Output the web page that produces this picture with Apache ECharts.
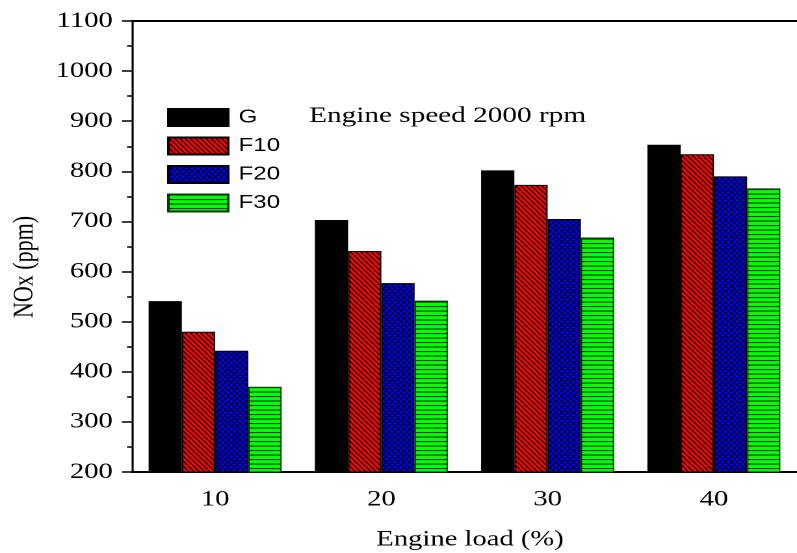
<!DOCTYPE html>
<html>
<head>
<meta charset="utf-8">
<script src="https://cdn.jsdelivr.net/npm/echarts@6/dist/echarts.min.js"></script>
<style>
  html, body { margin: 0; padding: 0; background: #fff; overflow: hidden; width: 797px; height: 553px; }
  #chart { width: 613px; height: 553px; transform: scaleX(1.30016); transform-origin: 0 0; }
</style>
</head>
<body>
<div id="chart"></div>
<script>
// ---- data ----
const loads = ['10', '20', '30', '40'];
const seriesNames = ['G', 'F10', 'F20', 'F30'];
const valuesG = [541, 703, 802, 853];
const valuesF10 = [480, 641, 773, 834];
const valuesF20 = [442, 577, 705, 790];
const valuesF30 = [370, 542, 668, 766];
const yMin = 200, yMax = 1100, yStep = 100;
const titleText = 'Engine speed 2000 rpm';
const xTitle = 'Engine load (%)';
const yTitle = 'NOx (ppm)';

// ---- fill patterns ----
function makePattern(w, h, draw) {
  const k = 4;
  const c = document.createElement('canvas');
  c.width = Math.round(w * k); c.height = Math.round(h * k);
  const ctx = c.getContext('2d');
  ctx.scale(k, k);
  draw(ctx, w, h);
  return { image: c, repeat: 'repeat', scaleX: 1 / k, scaleY: 1 / k };
}
const redHatch = makePattern(4, 5, (ctx, w, h) => {
  ctx.fillStyle = '#ff0000'; ctx.fillRect(0, 0, w, h);
  ctx.strokeStyle = '#000'; ctx.lineWidth = 1.1;
  for (let dx = -w; dx <= w; dx += w) {
    ctx.beginPath(); ctx.moveTo(dx, 0); ctx.lineTo(dx + w, h); ctx.stroke();
  }
});
const blueCross = makePattern(4.5, 5.5, (ctx, w, h) => {
  ctx.fillStyle = '#0000ff'; ctx.fillRect(0, 0, w, h);
  ctx.strokeStyle = '#000'; ctx.lineWidth = 0.9;
  for (let dx = -w; dx <= w; dx += w) {
    ctx.beginPath(); ctx.moveTo(dx, 0); ctx.lineTo(dx + w, h); ctx.stroke();
    ctx.beginPath(); ctx.moveTo(dx + w, 0); ctx.lineTo(dx, h); ctx.stroke();
  }
});
const greenLines = makePattern(4, 4.5, (ctx, w, h) => {
  ctx.fillStyle = '#00ff00'; ctx.fillRect(0, 0, w, h);
  ctx.fillStyle = '#003300'; ctx.fillRect(0, 0, w, 1.1);
});
const fills = ['#000000', redHatch, blueCross, greenLines];
const borders = ['#000000', '#000000', '#000000', '#0a3a0a'];
const allValues = [valuesG, valuesF10, valuesF20, valuesF30];

const serif = '"Liberation Serif", "Times New Roman", serif';
const sans = '"Liberation Sans", Arial, sans-serif';

const chart = echarts.init(document.getElementById('chart'), null, { renderer: 'canvas', devicePixelRatio: 2 });
chart.setOption({
  animation: false,
  backgroundColor: '#fff',
  title: {
    text: titleText, left: 237.7, top: 104.5, padding: 0,
    textStyle: { fontFamily: serif, fontSize: 22.5, fontWeight: 'normal', color: '#000' }
  },
  legend: {
    orient: 'vertical', left: 128.5, top: 108, padding: 0,
    itemWidth: 46, itemHeight: 17, itemGap: 9.5,
    icon: 'rect',
    data: seriesNames,
    textStyle: { fontFamily: sans, fontSize: 18.5, color: '#000', lineHeight: 17, padding: [0, 0, 0, 3] }
  },
  grid: { left: 101.5, top: 21, width: 520, bottom: 81, containLabel: false },
  xAxis: [
    {
      type: 'category', data: loads, position: 'bottom',
      axisLine: { lineStyle: { color: '#000', width: 2 } },
      axisTick: { alignWithLabel: true, length: 8, lineStyle: { color: '#000', width: 1.5 } },
      axisLabel: { fontFamily: serif, fontSize: 22, color: '#000', margin: 16.5 },
      splitLine: { show: false }
    },
    {
      type: 'category', data: loads, position: 'bottom',
      axisLine: { show: false },
      axisTick: { length: 5, lineStyle: { color: '#000', width: 1.5 } },
      axisLabel: { show: false }, splitLine: { show: false }
    },
    {
      type: 'category', data: loads, position: 'top',
      axisLine: { lineStyle: { color: '#000', width: 2 } },
      axisTick: { inside: true, length: 3, lineStyle: { color: '#000', width: 1 } },
      axisLabel: { show: false }, splitLine: { show: false }
    },
    {
      type: 'category', data: loads, position: 'top',
      axisLine: { show: false },
      axisTick: { inside: true, alignWithLabel: true, length: 3, lineStyle: { color: '#000', width: 1 } },
      axisLabel: { show: false }, splitLine: { show: false }
    }
  ],
  yAxis: {
    type: 'value', min: yMin, max: yMax, interval: yStep,
    axisLine: { show: true, lineStyle: { color: '#000', width: 1.6 } },
    axisTick: { show: true, length: 7.7, lineStyle: { color: '#000', width: 1.5 } },
    minorTick: { show: true, splitNumber: 2, length: 3.8, lineStyle: { color: '#000', width: 1.5 } },
    axisLabel: { fontFamily: serif, fontSize: 22, color: '#000', margin: 14.8, formatter: (v) => String(v) },
    splitLine: { show: false }
  },
  graphic: [
    {
      type: 'text', x: 19.2, y: 267, rotation: Math.PI / 2,
      style: { text: yTitle, font: '22px ' + serif, fill: '#000', align: 'center', verticalAlign: 'middle' }
    },
    {
      type: 'text', x: 361.5, y: 539.5,
      style: { text: xTitle, font: '22px ' + serif, fill: '#000', align: 'center', verticalAlign: 'middle' }
    }
  ],
  series: seriesNames.map((name, i) => ({
    name: name, type: 'bar', xAxisIndex: 0, yAxisIndex: 0,
    data: allValues[i],
    barGap: '0%', barCategoryGap: '20%',
    itemStyle: { color: fills[i], borderColor: borders[i], borderWidth: 1 }
  }))
});
</script>
</body>
</html>
